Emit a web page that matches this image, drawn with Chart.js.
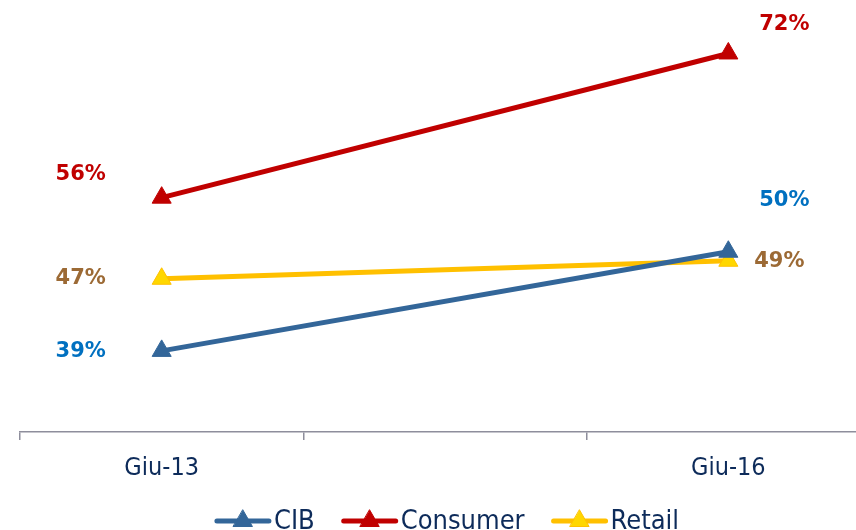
<!DOCTYPE html>
<html>
<head>
<meta charset="utf-8">
<script src="https://cdn.jsdelivr.net/npm/chart.js@4"></script>
<style>
  html, body { margin: 0; padding: 0; background: #fff; }
  #wrap { width: 856px; height: 530px; overflow: hidden; position: relative; }
  #chart { position: absolute; left: 0; top: 0; }
</style>
</head>
<body>
<div id="wrap"><canvas id="chart" width="882" height="530"></canvas></div>
<script>
// Categories (middle slot is empty in the original)
const categories = ["Giu-13", "", "Giu-16"];

// Series values (%)
const cibValues = [39, null, 50];
const consumerValues = [56, null, 72];
const retailValues = [47, null, 49];

const seriesNames = ["CIB", "Consumer", "Retail"];

// Label placement relative to each point [dx, dy] for first and last category
const labelOffsets = [
    [[-81, 1], [56, -51]],   // CIB
    [[-81, -23], [56, -29]], // Consumer
    [[-81, 0], [51, 1]],     // Retail
];
const labelColors = ["#0070C0", "#C00000", "#9C6A35"];

const navy = "#0D2B5A";

// Draws the value labels next to the first and last points
const valueLabels = {
    id: "valueLabels",
    afterDatasetsDraw(chart) {
        const ctx = chart.ctx;
        ctx.save();
        ctx.font = "bold 21px 'DejaVu Sans'";
        ctx.textAlign = "center";
        ctx.textBaseline = "middle";
        chart.data.datasets.forEach((ds, i) => {
            const meta = chart.getDatasetMeta(i);
            let k = 0;
            ds.data.forEach((v, j) => {
                if (v === null) return;
                const pt = meta.data[j];
                const off = labelOffsets[i][k++];
                ctx.fillStyle = labelColors[i];
                ctx.fillText(v + "%", pt.x + off[0], pt.y + off[1]);
            });
        });
        ctx.restore();
    }
};

// Legend with a line + triangle marker, drawn at the bottom
const lineLegend = {
    id: "lineLegend",
    afterDraw(chart) {
        const ctx = chart.ctx;
        ctx.save();
        ctx.font = "27px 'DejaVu Sans Condensed'";
        ctx.textBaseline = "middle";
        const lineW = 56, textGap = 3, itemGap = 27;
        const items = chart.data.datasets.map(ds => ({
            ds, w: lineW + textGap + ctx.measureText(ds.label).width
        }));
        const total = items.reduce((s, it) => s + it.w, 0) + itemGap * (items.length - 1);
        let x = 447 - total / 2;
        const y = 521;
        items.forEach(it => {
            const ds = it.ds;
            ctx.strokeStyle = ds.borderColor;
            ctx.lineWidth = 5;
            ctx.lineCap = "round";
            ctx.beginPath();
            ctx.moveTo(x + 2, y);
            ctx.lineTo(x + lineW - 2, y);
            ctx.stroke();
            const cx = x + lineW / 2, r = 11;
            ctx.fillStyle = ds.pointBackgroundColor;
            ctx.strokeStyle = ds.pointBorderColor;
            ctx.lineWidth = 1;
            ctx.beginPath();
            ctx.moveTo(cx, y - r);
            ctx.lineTo(cx + r * 0.866, y + r * 0.5);
            ctx.lineTo(cx - r * 0.866, y + r * 0.5);
            ctx.closePath();
            ctx.fill();
            ctx.stroke();
            ctx.fillStyle = navy;
            ctx.fillText(ds.label, x + lineW + textGap, y + 1);
            x += it.w + itemGap;
        });
        ctx.restore();
    }
};

function makeSeries(label, data, line, fill, border) {
    return {
        label: label,
        data: data,
        borderColor: line,
        borderWidth: 5,
        pointStyle: "triangle",
        pointRadius: 11,
        pointHoverRadius: 11,
        pointBackgroundColor: fill,
        pointBorderColor: border,
        pointBorderWidth: 1,
        spanGaps: true,
        tension: 0,
    };
}

new Chart(document.getElementById("chart").getContext("2d"), {
    type: "line",
    data: {
        labels: categories,
        datasets: [
            makeSeries(seriesNames[0], cibValues, "#336699", "#336699", "#336699"),
            makeSeries(seriesNames[1], consumerValues, "#C00000", "#C00000", "#C00000"),
            makeSeries(seriesNames[2], retailValues, "#FFC000", "#FFD700", "#FFC000"),
        ],
    },
    options: {
        responsive: false,
        animation: false,
        layout: { padding: { left: 20, right: 1, top: 5, bottom: 33 } },
        plugins: {
            legend: { display: false },
            tooltip: { enabled: false },
        },
        scales: {
            x: {
                offset: true,
                grid: {
                    offset: true,
                    drawOnChartArea: false,
                    drawTicks: true,
                    tickLength: 8,
                    color: "#8E8E9C",
                    lineWidth: 1.5,
                },
                border: { display: true, color: "#8E8E9C", width: 1.5 },
                ticks: {
                    color: navy,
                    padding: 16,
                    font: { family: "'DejaVu Sans Condensed'", size: 25, lineHeight: 1 },
                },
            },
            y: {
                display: false,
                min: 30,
                max: 76.6,
            },
        },
    },
    plugins: [valueLabels, lineLegend],
});
</script>
</body>
</html>
